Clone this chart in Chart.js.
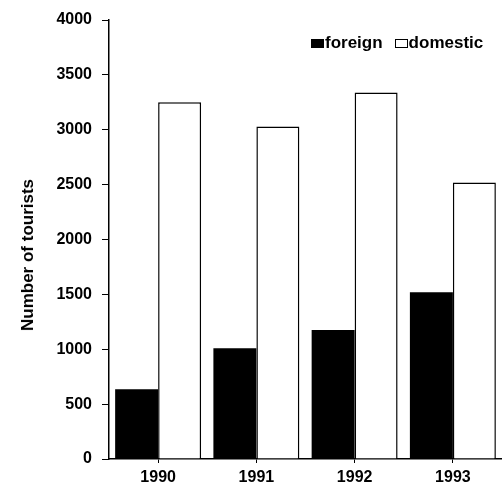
<!DOCTYPE html>
<html>
<head>
<meta charset="utf-8">
<script src="https://cdn.jsdelivr.net/npm/chart.js@4.4.1/dist/chart.umd.min.js"></script>
<style>
  html, body { margin: 0; padding: 0; background: #fff; }
  .wrap { position: relative; width: 502px; height: 487px; }
  .legend {
    position: absolute; top: 34px; left: 311px;
    font: bold 17px "Liberation Sans", Arial, sans-serif; color: #000;
    display: flex; align-items: center; line-height: 18px;
  }
  .legend span.box { display: inline-block; width: 13px; height: 9px; box-sizing: border-box; border: 1.5px solid #000; margin-right: 1px; }
  .legend span.item { margin-right: 12px; }
  .ytitle {
    position: absolute; left: 28px; top: 255px;
    transform: translate(-50%, -50%) rotate(-90deg);
    font: bold 17px "Liberation Sans", Arial, sans-serif; color: #000;
    white-space: nowrap;
  }
</style>
</head>
<body>
<div class="wrap">
  <canvas id="chart" width="502" height="487"></canvas>
  <div class="legend">
    <span class="box" style="background:#000"></span><span class="item">foreign</span>
    <span class="box" style="background:#fff"></span><span>domestic</span>
  </div>
  <div class="ytitle">Number of tourists</div>
</div>
<script>
const years = ["1990", "1991", "1992", "1993"]
const foreign = [635, 1010, 1175, 1520]
const domestic = [3250, 3030, 3340, 2520]

const tickFont = { family: "'Liberation Sans', Arial, sans-serif", size: 16, weight: "bold" }

new Chart(document.getElementById("chart").getContext("2d"), {
  type: "bar",
  data: {
    labels: years,
    datasets: [
      {
        label: "foreign",
        data: foreign,
        backgroundColor: "#000",
        borderColor: "#000",
        borderWidth: 0,
        categoryPercentage: 0.875,
        barPercentage: 1.0,
      },
      {
        label: "domestic",
        data: domestic,
        backgroundColor: "#fff",
        borderColor: "#000",
        borderWidth: 1.5,
        borderSkipped: "bottom",
        categoryPercentage: 0.875,
        barPercentage: 1.0,
      },
    ],
  },
  options: {
    responsive: false,
    animation: false,
    devicePixelRatio: 1,
    layout: { padding: { top: 20, right: 0, left: 0, bottom: 0 } },
    plugins: {
      legend: { display: false },
      tooltip: { enabled: false },
    },
    scales: {
      x: {
        grid: { display: true, drawOnChartArea: false, offset: false, color: "#000", tickLength: 4 },
        border: { color: "#000", width: 1.5 },
        ticks: { color: "#000", font: tickFont, padding: 5 },
        afterFit: (scale) => { scale.height = 28 },
      },
      y: {
        min: 0,
        max: 4000,
        ticks: {
          stepSize: 500,
          color: "#000",
          font: tickFont,
          padding: 10,
          callback: (value) => String(value),
        },
        grid: { display: true, drawOnChartArea: false, color: "#000", tickLength: 7 },
        border: { color: "#000", width: 1.5 },
        afterFit: (scale) => { scale.width = 109 },
      },
    },
  },
})
</script>
</body>
</html>
